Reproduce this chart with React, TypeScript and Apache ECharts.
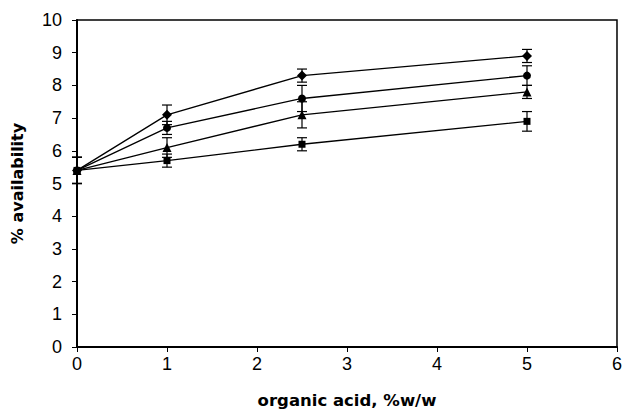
import React, { useEffect, useRef } from "react";
import * as echarts from "echarts";

const xValues = [0, 1, 2.5, 5];
const diamondValues = [5.4, 7.1, 8.3, 8.9];
const diamondErr = [0.4, 0.3, 0.2, 0.2];
const circleValues = [5.4, 6.7, 7.6, 8.3];
const circleErr = [0.4, 0.2, 0.4, 0.3];
const triangleValues = [5.4, 6.1, 7.1, 7.8];
const triangleErr = [0.4, 0.3, 0.4, 0.2];
const squareValues = [5.4, 5.7, 6.2, 6.9];
const squareErr = [0.4, 0.2, 0.2, 0.3];

const xTitle = "organic acid, %w/w";
const yTitle = "% availability";

const seriesDefs = [
  { name: "diamond", symbol: "diamond", values: diamondValues, err: diamondErr, size: 10 },
  { name: "circle", symbol: "circle", values: circleValues, err: circleErr, size: 8 },
  { name: "triangle", symbol: "triangle", values: triangleValues, err: triangleErr, size: 9 },
  { name: "square", symbol: "rect", values: squareValues, err: squareErr, size: 7 },
];

export default function App() {
  const ref = useRef<HTMLDivElement>(null);
  useEffect(() => {
    if (!ref.current) return;
    const chart = echarts.init(ref.current, null, { renderer: "svg" });
    const tickFont = "Liberation Sans, Arial, sans-serif";
    const titleFont = "DejaVu Sans, sans-serif";

    const errorSeries = seriesDefs.map((s) => ({
      type: "custom",
      name: s.name + "-err",
      z: 1,
      renderItem: (params: any, api: any) => {
        const x = api.value(0);
        const lo = api.coord([x, api.value(1)]);
        const hi = api.coord([x, api.value(2)]);
        const hw = 5;
        const style = { stroke: "#000", lineWidth: 1.2 };
        return {
          type: "group",
          children: [
            { type: "line", shape: { x1: lo[0], y1: lo[1], x2: hi[0], y2: hi[1] }, style },
            { type: "line", shape: { x1: lo[0] - hw, y1: lo[1], x2: lo[0] + hw, y2: lo[1] }, style },
            { type: "line", shape: { x1: hi[0] - hw, y1: hi[1], x2: hi[0] + hw, y2: hi[1] }, style },
          ],
        };
      },
      data: xValues.map((x, i) => [x, s.values[i] - s.err[i], s.values[i] + s.err[i]]),
      silent: true,
    }));

    const lineSeries = seriesDefs.map((s) => ({
      type: "line",
      name: s.name,
      z: 3,
      symbol: s.symbol,
      symbolSize: s.size,
      showSymbol: true,
      lineStyle: { color: "#000", width: 1.3 },
      itemStyle: { color: "#000" },
      data: xValues.map((x, i) => [x, s.values[i]]),
    }));

    chart.setOption({
      animation: false,
      backgroundColor: "#fff",
      grid: {
        left: 77,
        right: 6,
        top: 20,
        bottom: 71,
        show: true,
        borderColor: "#000",
        borderWidth: 1.5,
        backgroundColor: "transparent",
      },
      xAxis: {
        type: "value",
        min: 0,
        max: 6,
        interval: 1,
        name: xTitle,
        nameLocation: "middle",
        nameGap: 45,
        nameTextStyle: { fontFamily: titleFont, fontSize: 16.5, fontWeight: "bold", color: "#000" },
        axisLine: { show: true, lineStyle: { color: "#000", width: 2 } },
        axisTick: { show: true, length: 5, lineStyle: { color: "#000", width: 1 } },
        axisLabel: { fontFamily: tickFont, fontSize: 18, color: "#000", margin: 8 },
        splitLine: { show: false },
      },
      yAxis: {
        type: "value",
        min: 0,
        max: 10,
        interval: 1,
        name: yTitle,
        nameLocation: "middle",
        nameGap: 52,
        nameRotate: 90,
        nameTextStyle: { fontFamily: titleFont, fontSize: 16, fontWeight: "bold", color: "#000" },
        axisLine: { show: true, lineStyle: { color: "#000", width: 2 } },
        axisTick: { show: true, length: 5, lineStyle: { color: "#000", width: 1 } },
        axisLabel: { fontFamily: tickFont, fontSize: 18, color: "#000", margin: 15 },
        splitLine: { show: false },
      },
      series: [...errorSeries, ...lineSeries],
    } as any);
    return () => chart.dispose();
  }, []);
  return (
    <div
      ref={ref}
      style={{ position: "absolute", left: 0, top: 0, width: 625, height: 418, background: "#fff" }}
    />
  );
}
